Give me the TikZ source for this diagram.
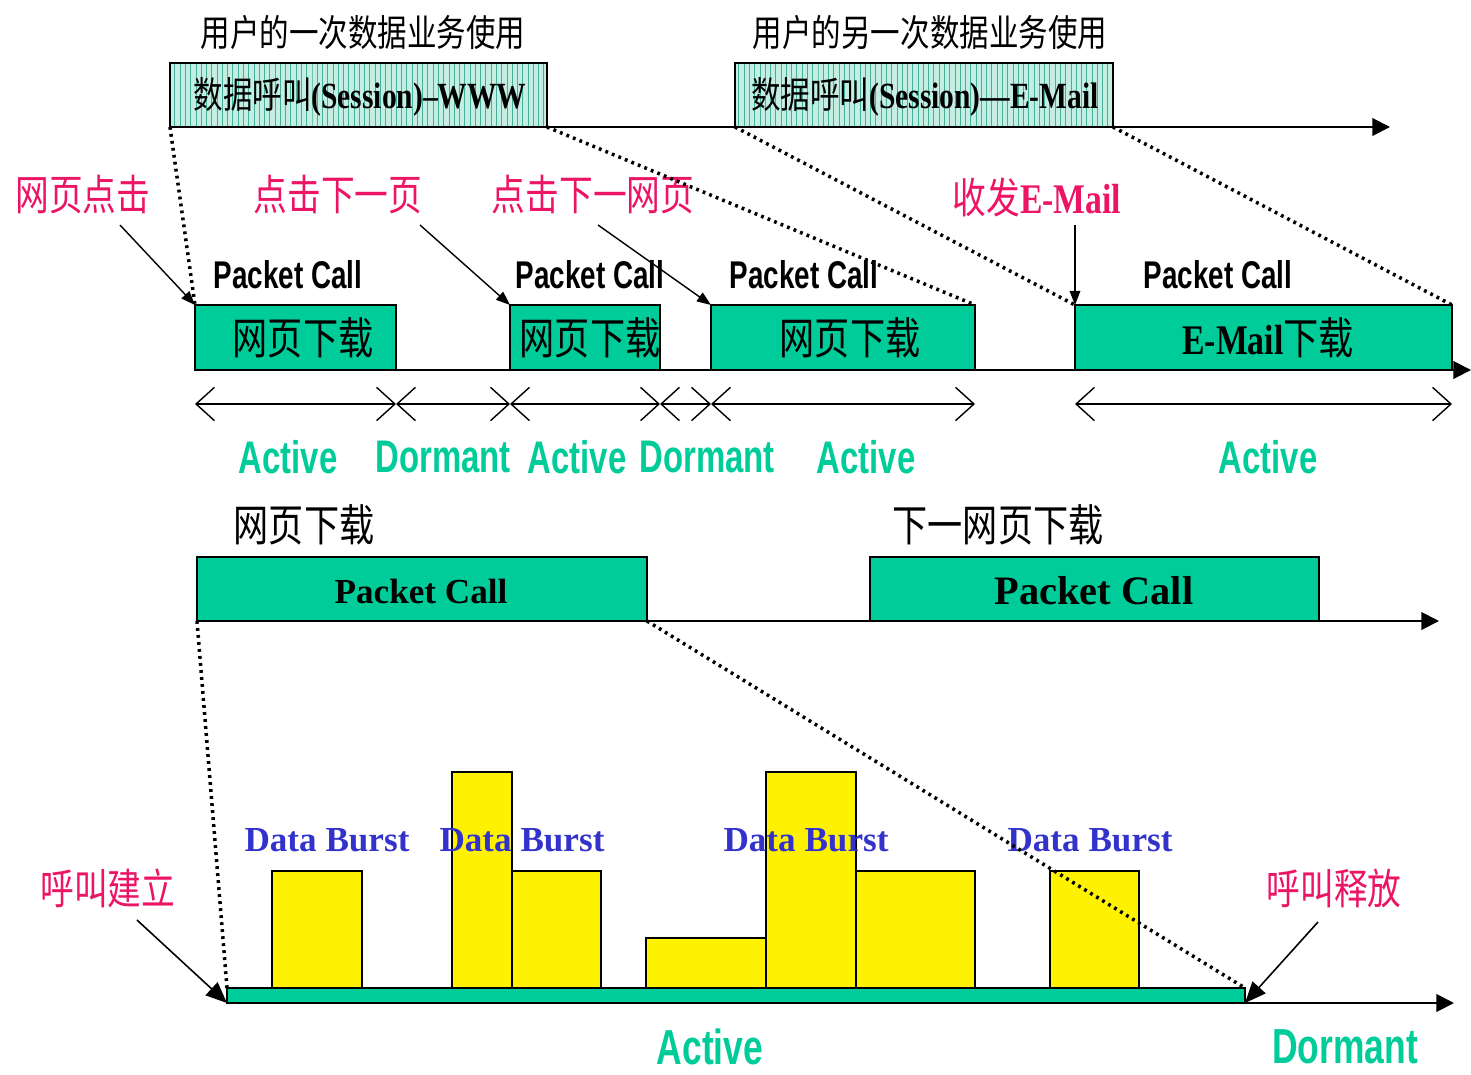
\documentclass[tikz,border=0pt]{standalone}
\usepackage{fontspec}
\setmainfont{Liberation Serif}
\newfontfamily\cjk{Noto Sans CJK SC}[FakeStretch=0.8]
\newfontfamily\serifc{Liberation Serif}[FakeStretch=0.8]
\newfontfamily\sansc{Liberation Sans}[FakeStretch=0.72]
\usetikzlibrary{arrows.meta,patterns}
\definecolor{pcgreen}{RGB}{0,204,153}
\definecolor{clickred}{RGB}{236,20,100}
\definecolor{burstblue}{RGB}{51,51,204}
\definecolor{sessfill}{RGB}{196,238,226}
\definecolor{sessline}{RGB}{70,175,155}
\newcommand\fsz[1]{\fontsize{#1pt}{#1pt}\selectfont}
\tikzset{
  click/.style={text=clickred, font=\cjk\fsz{24}, inner sep=0pt},
  state/.style={text=pcgreen, font=\sansc\bfseries\fsz{26}, inner sep=0pt},
  pclabel/.style={font=\sansc\bfseries\fsz{22}, inner sep=0pt},
  burst/.style={text=burstblue, font=\bfseries\fsz{20}, inner sep=0pt},
  plain/.style={font=\cjk\fsz{25}, inner sep=0pt},
  pcbox/.style={draw=black, fill=pcgreen, line width=0.9pt},
  ybar/.style={draw=black, fill=yellow, line width=1.4pt},
  zoomline/.style={line width=2pt, dash pattern=on 1.6pt off 2.4pt},
  timeaxis/.style={line width=1.1pt, -{Triangle[length=10pt,width=10pt]}},
  pointer/.style={line width=0.8pt, -{Triangle[length=8pt,width=6pt]}},
  bigpointer/.style={line width=0.9pt, -{Triangle[length=12pt,width=10pt]}},
  span/.style={line width=0.8pt,
    {Straight Barb[length=10.5pt,width=19pt]}-{Straight Barb[length=10.5pt,width=19pt]}},
}
\begin{document}
\begin{tikzpicture}[x=0.02cm, y=-0.02cm]
  % one unit = one pixel of the reference, y grows downwards
  \useasboundingbox (0,0) rectangle (1471,1075);

  % ---- top row: two sessions on the user's time line
  \node[plain, font=\cjk\fsz{21}] (use1) at (363,32) {用户的一次数据业务使用};
  \node[plain, font=\cjk\fsz{21}] (use2) at (930,32) {用户的另一次数据业务使用};
  \coordinate (S1a) at (170,63);  \coordinate (S1b) at (547,127);
  \coordinate (S2a) at (735,63);  \coordinate (S2b) at (1113,127);
  \foreach \a/\b in {S1a/S1b, S2a/S2b} {
    \fill[sessfill] (\a) rectangle (\b);
    \fill[pattern=vertical lines, pattern color=sessline] (\a) rectangle (\b);
    \draw[line width=0.8pt] (\a) rectangle (\b);
  }
  \node[inner sep=0pt] (sess1) at (360,97)
    {{\cjk\fsz{21}数据呼叫}{\serifc\bfseries\fsz{21}(Session)–WWW}};
  \node[inner sep=0pt] (sess2) at (925,97)
    {{\cjk\fsz{21}数据呼叫}{\serifc\bfseries\fsz{21}(Session)—E-Mail}};
  \coordinate (T0) at (170,127);
  \coordinate (T1) at (1390,127);
  \draw[timeaxis] (T0) -- (T1);

  % ---- middle row: packet calls of the two sessions
  \coordinate (A1) at (195,305);  \coordinate (A2) at (396,370);
  \coordinate (B1) at (510,305);  \coordinate (B2) at (660,370);
  \coordinate (C1) at (711,305);  \coordinate (C2) at (975,370);
  \coordinate (D1) at (1075,305); \coordinate (D2) at (1452,370);
  \foreach \a/\b in {A1/A2, B1/B2, C1/C2, D1/D2}
    \draw[pcbox] (\a) rectangle (\b);
  \coordinate (M0) at (195,370);
  \coordinate (M1) at (1471,370);
  \draw[timeaxis] (M0) -- (M1);
  \node[plain] (dlA) at (303,338) {网页下载};
  \node[plain] (dlB) at (590,338) {网页下载};
  \node[plain] (dlC) at (850,338) {网页下载};
  \node[inner sep=0pt] (dlD) at (1268,338)
    {{\serifc\bfseries\fsz{24}E-Mail}{\cjk\fsz{25}下载}};
  \foreach \x/\n in {288/A, 590/B, 804/C, 1218/D}
    \node[pclabel] (pc\n) at (\x,275) {Packet Call};

  % clicks that start the packet calls
  \node[click] (clk1) at (83,195) {网页点击};
  \node[click] (clk2) at (338,195) {点击下一页};
  \node[click] (clk3) at (593,195) {点击下一网页};
  \node[click] (clk4) at (1037,197) {收发{\serifc\bfseries\fsz{24}E-Mail}};
  \coordinate (clk1t) at (120,225);
  \coordinate (clk2t) at (420,225);
  \coordinate (clk3t) at (598,225);
  \coordinate (clk4t) at (1075,225);
  \draw[pointer] (clk1t) -- (A1);
  \draw[pointer] (clk2t) -- (B1);
  \draw[pointer] (clk3t) -- (C1);
  \draw[pointer] (clk4t) -- (D1);

  % active / dormant periods
  \foreach \x [remember=\x as \lastx (initially 195)] in {396,510,660,711,975}
    \draw[span] (\lastx,404) -- (\x,404);
  \draw[span] (1075,404) -- (1452,404);
  \node[state] (st1) at (288,457) {Active};
  \node[state] (st2) at (443,457) {Dormant};
  \node[state] (st3) at (577,457) {Active};
  \node[state] (st4) at (707,457) {Dormant};
  \node[state] (st5) at (866,457) {Active};
  \node[state] (st6) at (1268,457) {Active};

  % ---- lower row: one page download and the next
  \node[plain] (pg1) at (304,525) {网页下载};
  \node[plain] (pg2) at (998,525) {下一网页下载};
  \coordinate (Q1a) at (197,557); \coordinate (Q1b) at (647,621);
  \coordinate (Q2a) at (870,557); \coordinate (Q2b) at (1319,621);
  \draw[pcbox] (Q1a) rectangle (Q1b);
  \draw[pcbox] (Q2a) rectangle (Q2b);
  \node[font=\bfseries\fsz{20}, inner sep=0pt] (call1) at (421,591) {Packet Call};
  \node[font=\bfseries\fsz{23}, inner sep=0pt] (call2) at (1094,591) {Packet Call};
  \coordinate (L0) at (197,621);
  \coordinate (L1) at (1439,621);
  \draw[timeaxis] (L0) -- (L1);

  % ---- bottom: data bursts inside one packet call
  \foreach \xa/\xb/\top in {272/362/871, 452/512/772, 512/601/871, 646/766/938,
                            766/856/772, 856/975/871, 1050/1139/871}
    \draw[ybar] (\xa,988) rectangle (\xb,\top);
  \coordinate (G1) at (227,988);  \coordinate (G2) at (1245,1003);
  \draw[pcbox] (G1) rectangle (G2);
  \coordinate (G3) at (227,1003); \coordinate (G4) at (1245,988);
  \coordinate (E1) at (1454,1003);
  \draw[timeaxis] (G2) -- (E1);
  \foreach \x/\n in {327/1, 522/2, 806/3, 1090/4}
    \node[burst] (db\n) at (\x,840) {Data Burst};
  \node[click] (setup) at (108,888) {呼叫建立};
  \node[click] (release) at (1334,888) {呼叫释放};
  \coordinate (setupt) at (137,920);
  \coordinate (releaset) at (1318,922);
  \draw[bigpointer] (setupt) -- (G3);
  \draw[bigpointer] (releaset) -- (G2);
  \node[state, font=\sansc\bfseries\fsz{28}] (act) at (710,1047) {Active};
  \node[state, font=\sansc\bfseries\fsz{28}] (dor) at (1345,1047) {Dormant};

  % ---- dotted zoom lines, on top of everything
  \draw[zoomline] (T0) -- (A1);
  \draw[zoomline] (S1b) -- (C2 |- C1);
  \draw[zoomline] (S2a |- S2b) -- (D1);
  \draw[zoomline] (S2b) -- (D2 |- D1);
  \draw[zoomline] (L0) -- (G1);
  \draw[zoomline] (Q1b) -- (G4);
\end{tikzpicture}
\end{document}
